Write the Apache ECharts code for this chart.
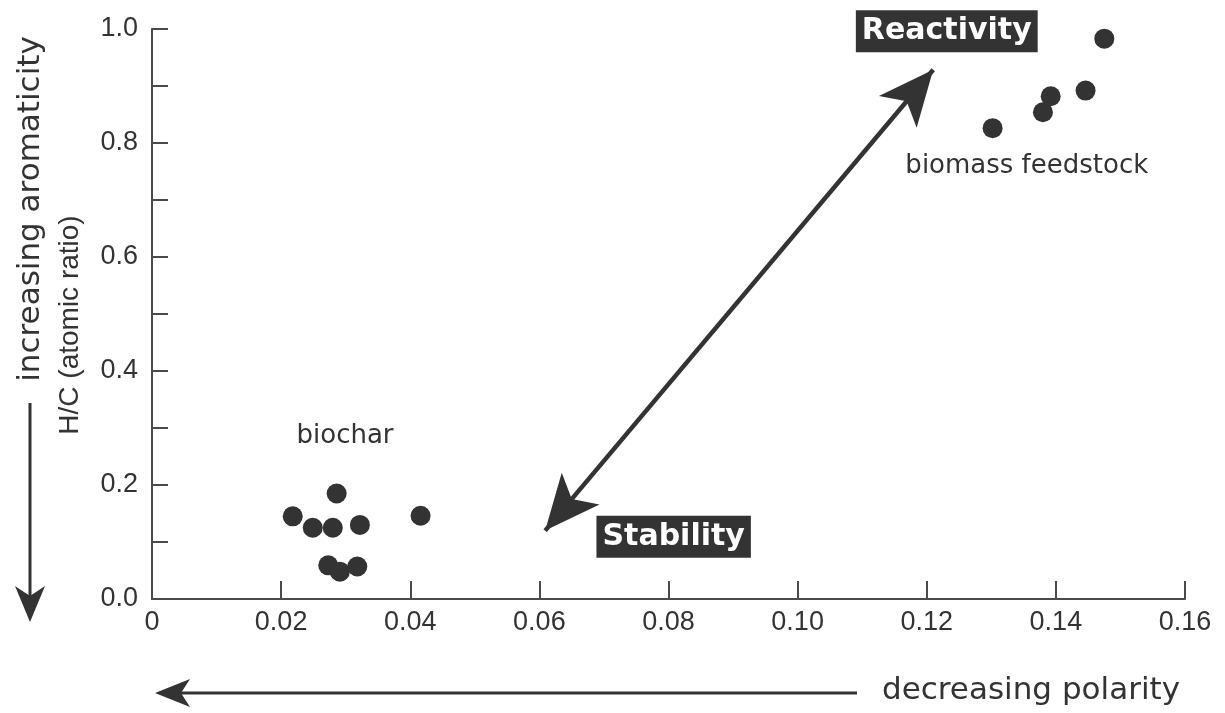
<!DOCTYPE html>
<html>
<head>
<meta charset="utf-8">
<script src="https://cdn.jsdelivr.net/npm/echarts@6/dist/echarts.min.js"></script>
<style>
html,body{margin:0;padding:0;background:#fff;}
#chart{width:1225px;height:713px;}
</style>
</head>
<body>
<div id="chart"></div>
<script>
// ---- data ----
const biocharX = [0.0218, 0.0249, 0.0280, 0.0286, 0.0322, 0.0416, 0.0273, 0.0291, 0.0318];
const biocharY = [0.145, 0.125, 0.125, 0.185, 0.130, 0.146, 0.059, 0.048, 0.057];
const biomassX = [0.1302, 0.1380, 0.1392, 0.1446, 0.1475];
const biomassY = [0.826, 0.854, 0.882, 0.892, 0.983];

const xTicks = [0, 0.02, 0.04, 0.06, 0.08, 0.10, 0.12, 0.14, 0.16];
const yTicks = [0.0, 0.2, 0.4, 0.6, 0.8, 1.0];

const xAxisTitle = 'decreasing polarity';
const yAxisTitle = 'increasing aromaticity';
const yAxisName = 'H/C (atomic ratio)';

// annotation anchors (data coordinates)
const groupLabels = [
  { name: 'biomass feedstock', coord: [0.1355, 0.760] },
  { name: 'biochar', coord: [0.0299, 0.285] }
];
const boxLabels = [
  { name: 'Reactivity', coord: [0.1231, 0.996] },
  { name: 'Stability', coord: [0.0808, 0.109] }
];
const trendArrow = [[0.0609, 0.120], [0.1210, 0.9286]];

// ---- chart ----
const DARK = '#333333';
const ARIAL = "'Liberation Sans', Arial, Helvetica, sans-serif";
const DEJAVU = "'DejaVu Sans', sans-serif";

const chart = echarts.init(document.getElementById('chart'), null, { renderer: 'canvas' });

const toPairs = (xs, ys) => xs.map((x, i) => [x, ys[i]]);

const option = {
  animation: false,
  backgroundColor: '#ffffff',
  grid: { left: 152, right: 40, top: 29, bottom: 114, containLabel: false, outerBoundsMode: 'none' },
  xAxis: {
    type: 'value', min: 0, max: 0.16, interval: 0.02,
    axisLine: { show: true, lineStyle: { color: '#4a4a4a', width: 2 } },
    axisTick: { show: true, inside: true, length: 18, lineStyle: { color: '#4a4a4a', width: 2 } },
    splitLine: { show: false },
    axisLabel: {
      margin: 10, color: DARK, fontSize: 27, fontFamily: ARIAL,
      formatter: v => {
        const t = xTicks.find(k => Math.abs(k - v) < 1e-9);
        if (t === undefined) return '';
        return t === 0 ? '0' : t.toFixed(2);
      }
    }
  },
  yAxis: {
    type: 'value', min: 0, max: 1, interval: 0.1,
    axisLine: { show: true, lineStyle: { color: '#4a4a4a', width: 2 } },
    axisTick: { show: true, inside: true, length: 16, lineStyle: { color: '#4a4a4a', width: 2 } },
    splitLine: { show: false },
    axisLabel: {
      margin: 14, color: DARK, fontSize: 27, fontFamily: ARIAL,
      formatter: v => {
        const t = yTicks.find(k => Math.abs(k - v) < 1e-9);
        return t === undefined ? '' : t.toFixed(1);
      }
    }
  },
  series: [
    {
      name: 'biochar', type: 'scatter', symbol: 'circle', symbolSize: 20,
      itemStyle: { color: DARK, opacity: 1 },
      data: toPairs(biocharX, biocharY)
    },
    {
      name: 'biomass feedstock', type: 'scatter', symbol: 'circle', symbolSize: 20,
      itemStyle: { color: DARK, opacity: 1 },
      data: toPairs(biomassX, biomassY)
    },
    {
      name: 'annotations', type: 'scatter', data: [], silent: true,
      markLine: {
        silent: true, animation: false,
        symbol: ['arrow', 'arrow'], symbolSize: [37, 55],
        label: { show: false },
        lineStyle: { color: DARK, width: 4.5, type: 'solid' },
        emphasis: { disabled: true },
        data: [[{ coord: trendArrow[0] }, { coord: trendArrow[1] }]]
      },
      markPoint: {
        silent: true, animation: false,
        symbol: 'circle', symbolSize: 0,
        itemStyle: { color: 'transparent' },
        data: [
          ...groupLabels.map(g => ({
            name: g.name, coord: g.coord,
            label: { show: true, position: 'inside', formatter: g.name, color: DARK, fontSize: 26, fontFamily: DEJAVU }
          })),
          ...boxLabels.map(b => ({
            name: b.name, coord: b.coord,
            label: {
              show: true, position: 'inside', formatter: b.name, color: '#ffffff',
              fontSize: 30, fontWeight: 'bold', fontFamily: DEJAVU,
              backgroundColor: DARK, padding: [4, 6, 4, 6], lineHeight: 34
            }
          }))
        ]
      }
    }
  ],
  graphic: [
    // y-axis title (rotated)
    { type: 'text', x: 31, y: 209, rotation: Math.PI / 2, silent: true,
      style: { text: yAxisTitle, fill: DARK, font: '31px ' + DEJAVU, textAlign: 'center', textVerticalAlign: 'middle' } },
    { type: 'text', x: 70, y: 325, rotation: Math.PI / 2, silent: true,
      style: { text: yAxisName, fill: DARK, font: '28px ' + ARIAL, textAlign: 'center', textVerticalAlign: 'middle' } },
    // vertical arrow
    { type: 'line', silent: true, shape: { x1: 30, y1: 403, x2: 30, y2: 600 }, style: { stroke: DARK, lineWidth: 3 } },
    { type: 'polygon', silent: true, shape: { points: [[30, 622], [15, 586], [30, 596], [45, 586]] }, style: { fill: DARK } },
    // x-axis title
    { type: 'text', x: 1031, y: 691, silent: true,
      style: { text: xAxisTitle, fill: DARK, font: '31px ' + DEJAVU, textAlign: 'center', textVerticalAlign: 'middle' } },
    // horizontal arrow
    { type: 'line', silent: true, shape: { x1: 175, y1: 693, x2: 857, y2: 693 }, style: { stroke: DARK, lineWidth: 3 } },
    { type: 'polygon', silent: true, shape: { points: [[155, 693], [190, 679], [181, 693], [190, 707]] }, style: { fill: DARK } }
  ]
};

chart.setOption(option);
</script>
</body>
</html>
